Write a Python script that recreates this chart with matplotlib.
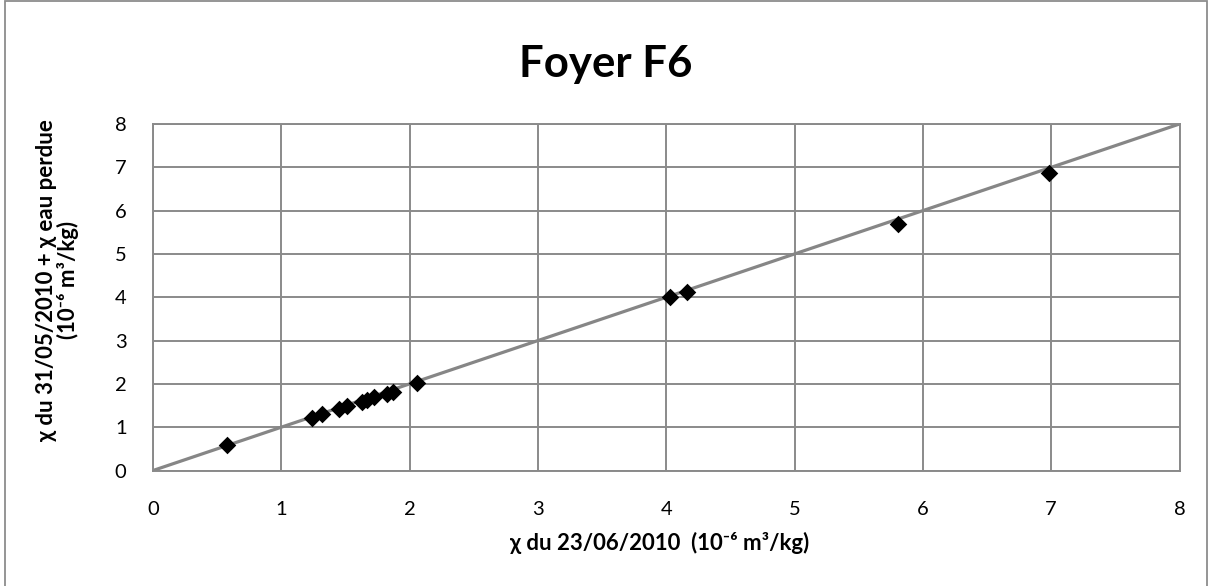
import matplotlib
matplotlib.use("Agg")
import matplotlib.pyplot as plt
from matplotlib.patches import Rectangle

plt.rcParams['font.family'] = ['Lato', 'DejaVu Sans']

# chi 23/06/2010 vs chi 31/05/2010 + chi eau perdue (10^-6 m3/kg)
chi_juin = [0.58, 1.24, 1.32, 1.45, 1.51, 1.63, 1.67, 1.72, 1.82, 1.87, 2.06,
            4.03, 4.16, 5.81, 6.98]
chi_mai = [0.59, 1.21, 1.30, 1.42, 1.49, 1.59, 1.63, 1.69, 1.76, 1.81, 2.03,
           4.01, 4.12, 5.70, 6.87]
ligne = [0, 8]
ticks = [0, 1, 2, 3, 4, 5, 6, 7, 8]

W, H = 1212, 586
fig = plt.figure(figsize=(W / 100, H / 100), dpi=100)
ax = fig.add_axes([153 / W, 1 - 470.5 / H, (1179.5 - 153) / W, (470.5 - 124) / H])

grey = '#8a8a8a'
ax.plot(ligne, ligne, color='#868686', lw=2.3, zorder=2, solid_capstyle='butt')
ax.scatter(chi_juin, chi_mai, marker='D', s=80, color='black', zorder=3, linewidths=0)

ax.set_xlim(0, 8)
ax.set_ylim(0, 8)
ax.set_xticks(ticks)
ax.set_yticks(ticks)
ax.grid(True, color=grey, lw=1.4)
ax.set_axisbelow(True)
for s in ax.spines.values():
    s.set_color(grey)
    s.set_linewidth(1.4)
ax.tick_params(length=0, labelsize=14.5)
ax.tick_params(axis='y', pad=19)
ax.tick_params(axis='x', pad=22)

fig.text(660 / W, 1 - 543 / H, 'χ du 23/06/2010  (10⁻⁶ m³/kg)', ha='center', va='center',
         fontsize=16, fontweight='bold')
fig.text(57.5 / W, 1 - 280 / H, 'χ du 31/05/2010 + χ eau perdue\n(10⁻⁶ m³/kg)',
         ha='center', va='center', rotation=90, fontsize=16, fontweight='bold',
         linespacing=1.05, multialignment='center')
fig.text(0.5, 1 - 77 / H, 'Foyer F6', ha='center', va='baseline',
         fontsize=31.5, fontweight='bold')

fig.patches.append(Rectangle((5 / W, -0.05), 1202 / W, 1.05 - 1.5 / H,
                             transform=fig.transFigure, fill=False,
                             edgecolor='#8c8c8c', lw=1.3))

fig.savefig('out.png', dpi=100)
